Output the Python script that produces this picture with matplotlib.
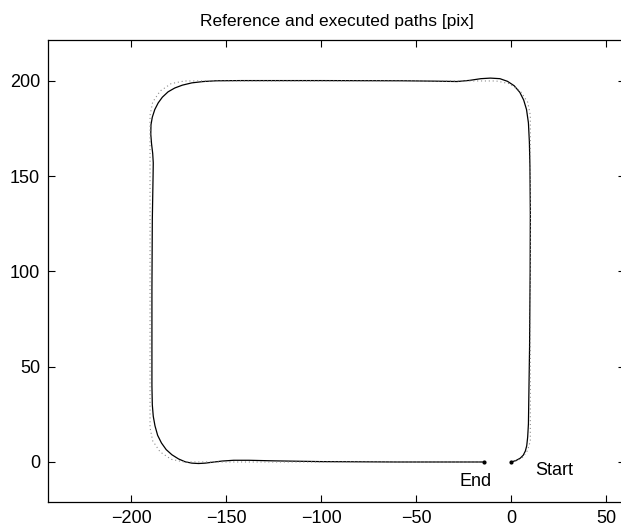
import matplotlib
matplotlib.use("Agg")
import matplotlib.pyplot as plt

# executed path (start -> up the right side -> top -> left side -> bottom -> end)
exec_x = [0, 2.5, 4.7, 6.3, 7.4, 8.1, 8.6, 9.0, 9.6, 9.9, 10.0, 9.8, 9.5, 9.0, 8.0, 6.5, 4.5,
          1.5, -2.0, -6.0, -11.0, -16.0, -22.0, -28.5, -40.0, -58.0, -100.0, -142.0, -155.0,
          -162.0, -168.0, -173.0, -177.0, -180.5, -183.5, -185.7, -187.5, -188.8, -189.5,
          -189.6, -189.2, -188.6, -188.3, -188.4, -188.8, -189.0, -189.0, -188.8, -188.3,
          -187.4, -186.0, -184.0, -181.5, -178.5, -175.0, -171.5, -168.0, -164.5, -161.0,
          -157.0, -152.0, -146.0, -138.0, -125.0, -100.0, -60.0, -14.5]
exec_y = [0, 0.8, 2.0, 3.6, 5.8, 8.5, 13.0, 20.0, 60.0, 100.0, 130.0, 155.0, 168.0, 178.0,
          185.0, 190.0, 194.0, 197.5, 199.8, 201.2, 201.5, 201.2, 200.3, 199.7, 199.9, 200.1,
          200.2, 200.2, 200.1, 199.7, 199.0, 197.8, 196.3, 194.3, 191.5, 188.5, 185.0, 181.0,
          177.0, 172.0, 167.0, 162.0, 157.0, 150.0, 127.0, 90.0, 40.0, 30.0, 24.0, 19.0, 14.0,
          10.0, 6.5, 3.8, 1.6, 0.1, -0.6, -0.8, -0.6, -0.1, 0.5, 0.9, 0.9, 0.6, 0.2, 0.0, 0.0]

# reference path (rounded rectangle)
ref_x = [0, 3.0, 6.0, 8.5, 10.0, 10.0, 10.0, 8.6, 4.7, -1.1, -8.0, -172.0, -178.9, -184.7,
         -188.6, -190.0, -190.0, -190.0, -188.6, -184.7, -178.9, -172.0, -14.5]
ref_y = [0, 0.6, 2.5, 6.0, 11.0, 100.0, 182.0, 188.9, 194.7, 198.6, 200.0, 200.0, 198.6,
         194.7, 188.9, 182.0, 100.0, 18.0, 11.1, 5.3, 1.4, 0.0, 0.0]

start_pt = (0.0, 0.0)
end_pt = (-14.5, 0.0)

plt.rcParams["font.family"] = ["Liberation Sans", "DejaVu Sans"]
plt.rcParams["font.size"] = 13

W, H = 621, 529
fig = plt.figure(figsize=(W / 100, H / 100), dpi=100)
# axes runs past the right edge of the image, as in the original
x0, x1, y0, y1 = 48.3, 625.4, 40, 502
ax = fig.add_axes([x0 / W, 1 - y1 / H, (x1 - x0) / W, (y1 - y0) / H])

ax.plot(exec_x, exec_y, color="k", lw=0.9, solid_joinstyle="round")
ax.plot(ref_x, ref_y, color="0.55", lw=0.8, ls=(0, (1, 2.5)))
ax.plot(*start_pt, "k.", ms=4)
ax.plot(*end_pt, "k.", ms=4)
ax.text(12.6, -4.6, "Start", ha="left", va="center")
ax.text(-27.3, -10, "End", ha="left", va="center")

ax.set_xlim(-243.5, 60)
ax.set_ylim(-21, 221.5)
ax.set_xticks([-200, -150, -100, -50, 0, 50])
ax.set_yticks([0, 50, 100, 150, 200])
ax.tick_params(direction="in", top=True, right=True, length=5, width=0.8, pad=6)
for s in ax.spines.values():
    s.set_linewidth(0.9)
ax.set_title("Reference and executed paths [pix]", fontsize=12.5, pad=10)

fig.savefig("out.png", dpi=100)
